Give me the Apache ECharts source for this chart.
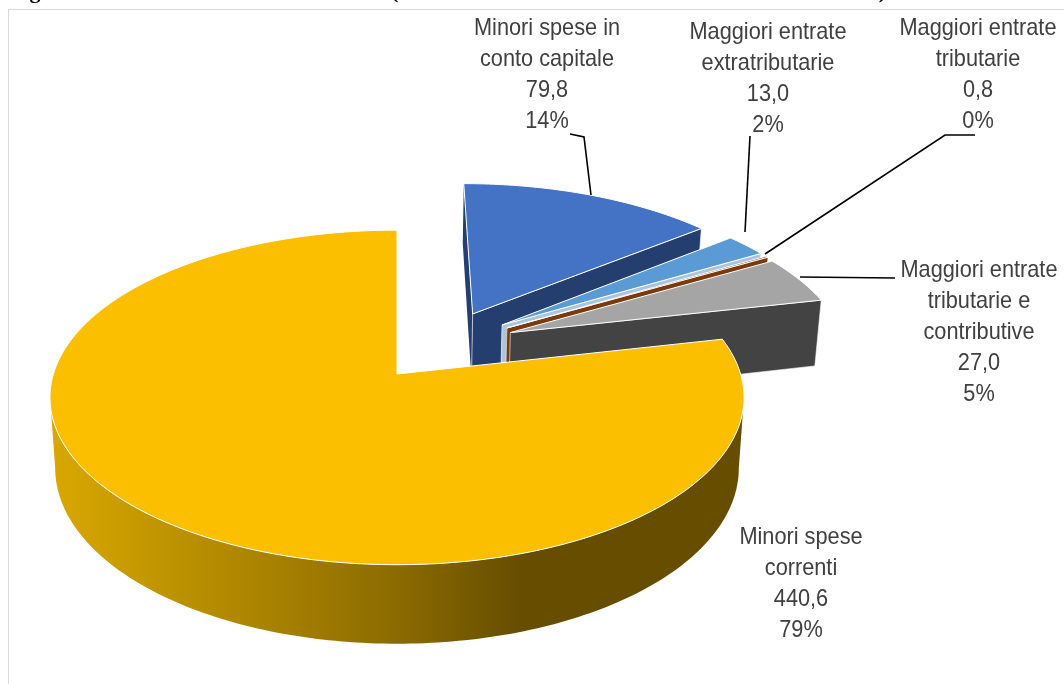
<!DOCTYPE html>
<html><head><meta charset="utf-8">
<style>html,body{margin:0;padding:0;background:#fff}#c{width:1064px;height:684px}</style>
<script src="https://cdn.jsdelivr.net/npm/echarts@6/dist/echarts.min.js"></script>
</head><body><div id="c"></div>
<script>
const categories = ["Minori spese in conto capitale","Maggiori entrate extratributarie","Maggiori entrate tributarie","Maggiori entrate tributarie e contributive","Minori spese correnti"];
const values = [79.8, 13.0, 0.8, 27.0, 440.6];
const valueLabels = ["79,8","13,0","0,8","27,0","440,6"];
const percentLabels = ["14%","2%","0%","5%","79%"];
const labelLines = [["Minori spese in","conto capitale"],["Maggiori entrate","extratributarie"],["Maggiori entrate","tributarie"],["Maggiori entrate","tributarie e","contributive"],["Minori spese","correnti"]];

// picture geometry (perspective pie), not data
const AX=397, AY=374, RA=343.6, RB=164, P=0.14;
const KX=0.985, KY=1.05, DY=69.5;
const explode=[[.232,.386],[.319,.312],[.333,.292],[.342,.262],[0,0]];
const topCol=["#4472C4","#5B9BD5","#9E480E","#A5A5A5","#FBBF00"];
const wallCol=["#253E70","#A9C6DE","#7A3A0E","#434343","#664D00"];
const labelPos=[[547,28],[768,32],[978,28],[979,270],[801,537]];
const leaders=[[[570,134],[584,137],[591,195]],[[750,136],[745,232]],[[975,135],[945,135],[765,254]],[[895,278],[800,277]],null];
const LH=31, FS=24, SX=0.905;

const total=values.reduce((a,b)=>a+b,0);
function proj(u,v,low){
  const w=1+P*v; let x=RA*u/w, y=-RB*v/w;
  if(low){x*=KX;y=y*KY+DY;}
  return [AX+x,AY+y];
}
function pt(i,deg,low,apex){
  const t=deg*Math.PI/180, e=explode[i];
  return apex?proj(e[0],e[1],low):proj(e[0]+Math.sin(t),e[1]+Math.cos(t),low);
}
function arc(i,a,b,low){const r=[];const n=Math.max(2,Math.ceil(Math.abs(b-a)));for(let k=0;k<=n;k++)r.push(pt(i,a+(b-a)*k/n,low));return r;}
const wallGrad={type:'linear',x:0,y:0,x2:1,y2:0,colorStops:[
 {offset:0,color:'#D9A800'},{offset:.48,color:'#8F6E00'},{offset:.68,color:'#664D00'},{offset:1,color:'#664D00'}]};

function renderItem(params,api){
  const i=params.dataIndex, v=api.value(1);
  let a0=0; for(let k=0;k<i;k++)a0+=values[k]/total*360;
  const a1=a0+v/total*360;
  const ch=[];
  const poly=(points,style)=>ch.push({type:'polygon',shape:{points},style});
  if(i<4){
    poly([pt(i,a0,false,true),pt(i,a0,false),pt(i,a0,true),pt(i,a0,true,true)],{fill:wallCol[i]});
    poly([pt(i,a1,false,true),pt(i,a1,false),pt(i,a1,true),pt(i,a1,true,true)],{fill:wallCol[i],stroke:'#fff',lineWidth:.6});
  }else{
    const tf=arc(i,98,262,false), bf=arc(i,98,262,true);
    poly(tf.concat(bf.reverse()),{fill:wallGrad});
  }
  const top=[pt(i,0,false,true)].concat(arc(i,a0,a1,false));
  poly(top,{fill:topCol[i],stroke:'#fff',lineWidth:1,lineJoin:'round'});
  return {type:'group',children:ch};
}
const textEls=[];
labelLines.forEach((ls,i)=>{
  const all=ls.concat([valueLabels[i],percentLabels[i]]);
  all.forEach((t,j)=>textEls.push({type:'text',x:labelPos[i][0],y:labelPos[i][1]+j*LH,z:10,scaleX:SX,
    style:{text:t,fill:'#404040',font:FS+'px "Liberation Sans"',textAlign:'center',textVerticalAlign:'middle'}}));
  if(leaders[i])textEls.push({type:'polyline',z:9,shape:{points:leaders[i]},style:{stroke:'#000',lineWidth:1.6,fill:null}});
});
const titleFont='bold 22px "Liberation Serif"';
const frame=[
 {type:'line',shape:{x1:8.5,y1:9.5,x2:8.5,y2:684},style:{stroke:'#D9D9D9',lineWidth:1}},
 {type:'line',shape:{x1:8,y1:9.5,x2:1064,y2:9.5},style:{stroke:'#D9D9D9',lineWidth:1}},
 {type:'text',x:10,y:3,style:{text:'Figura 1: Le risorse della manovra',fill:'#000',font:titleFont,textVerticalAlign:'bottom'}},
 {type:'text',x:391,y:3,style:{text:'(valori netti in miliardi di euro nel triennio in esame)',fill:'#000',font:titleFont,textVerticalAlign:'bottom'}}
];
const chart=echarts.init(document.getElementById('c'),null,{renderer:'canvas',width:1064,height:684});
chart.setOption({animation:false,backgroundColor:'#fff',
 series:[{type:'custom',coordinateSystem:'none',renderItem,silent:true,
   data:values.map((v,i)=>({name:categories[i],value:[i,v]}))}],
 graphic:{elements:frame.concat(textEls)}});
</script></body></html>
